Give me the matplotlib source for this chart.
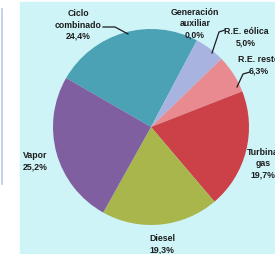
import matplotlib.pyplot as plt
from matplotlib.patches import Rectangle

# share of generation by technology (clockwise from "Ciclo combinado")
labels = ['Ciclo\ncombinado\n24,4%', 'Generación\nauxiliar\n0,0%', 'R.E. eólica\n5,0%',
          'R.E. resto\n6,3%', 'Turbina\ngas\n19,7%', 'Diesel\n19,3%', 'Vapor\n25,2%']
shares = [24.4, 0.0, 5.0, 6.3, 19.7, 19.3, 25.2]
colors = ['#4aa2b4', '#b8b8e6', '#a9b3e0', '#e98a90', '#cc4148', '#a8b64c', '#7f5f9f']


def main():
    fig = plt.figure(figsize=(2.75, 2.55), dpi=100)
    ax = fig.add_axes([0, 0, 1, 1])

    # cyan panel and faint left frame
    ax.add_patch(Rectangle((20, 0), 255, 252, color='#cff4f8', zorder=0))
    ax.plot([1.5, 1.5], [70, 245], color='#b9cbe8', lw=1.2, zorder=0)

    wedges = [s if s > 0 else 0.0001 for s in shares]
    ax.pie(wedges, colors=colors, startangle=150, counterclock=False,
           center=(151, 127), radius=98, frame=True,
           wedgeprops=dict(linewidth=0))
    ax.set_xlim(0, 275)
    ax.set_ylim(0, 255)
    ax.set_aspect('equal')
    ax.axis('off')

    font = dict(fontsize=6.3, fontweight='bold', color='#1c1c1c',
                family=['Liberation Sans', 'DejaVu Sans'], linespacing=1.35)
    pos = [(78, 230, 'center'), (195, 231, 'center'), (246, 218, 'center'),
           (259, 190, 'center'), (263, 91, 'center'), (162, 11, 'center'),
           (23, 94, 'left')]
    for lab, (x, y, ha) in zip(labels, pos):
        ax.text(x, y, lab, ha=ha, va='center', **font)

    # leader lines
    lc = dict(color='#1c1c1c', lw=0.9)
    ax.plot([103, 115, 128], [227, 227, 220], **lc)
    ax.plot([212, 219, 225], [201, 222, 224], **lc)
    ax.plot([237, 243, 250], [167, 180, 182], **lc)

    fig.savefig('out.png', dpi=100)


if __name__ == '__main__':
    main()
